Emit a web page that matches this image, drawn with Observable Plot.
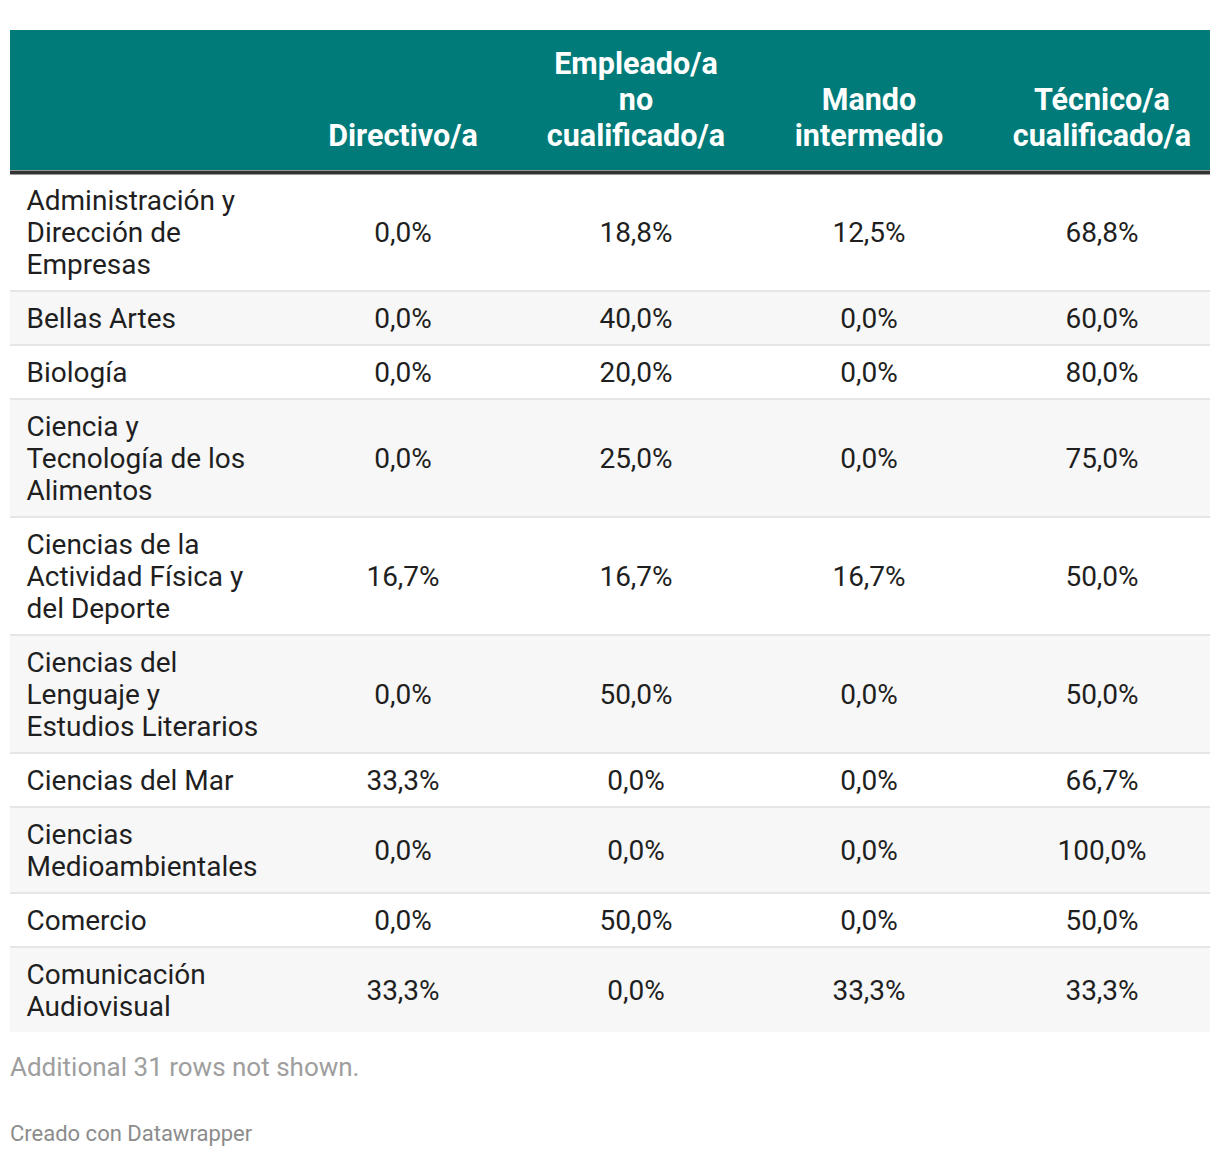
<!DOCTYPE html>
<html>
<head>
<meta charset="utf-8">
<script src="https://cdn.jsdelivr.net/npm/d3@7"></script>
<script src="https://cdn.jsdelivr.net/npm/@observablehq/plot@0.6"></script>
<style>
  html, body { margin: 0; padding: 0; background: #fff; }
  body { width: 1220px; height: 1158px; position: relative; font-family: Roboto, sans-serif; overflow: hidden; }
  #chart svg { display: block; }
  .note { position: absolute; left: 10px; color: #9e9e9e; white-space: nowrap; }
  #more { top: 1051px; font-size: 26px; line-height: 32px; }
  #credit { top: 1121px; font-size: 22px; line-height: 26px; color: #8c8c8c; }
</style>
</head>
<body>
<div id="chart"></div>
<div id="more" class="note">Additional 31 rows not shown.</div>
<div id="credit" class="note">Creado con Datawrapper</div>
<script>
// ---- data ----
const rowLabels = [
  "Administración y\nDirección de\nEmpresas",
  "Bellas Artes",
  "Biología",
  "Ciencia y\nTecnología de los\nAlimentos",
  "Ciencias de la\nActividad Física y\ndel Deporte",
  "Ciencias del\nLenguaje y\nEstudios Literarios",
  "Ciencias del Mar",
  "Ciencias\nMedioambientales",
  "Comercio",
  "Comunicación\nAudiovisual"
];
const columnLabels = [
  "Directivo/a",
  "Empleado/a\nno\ncualificado/a",
  "Mando\nintermedio",
  "Técnico/a\ncualificado/a"
];
const directivo = [0.0, 0.0, 0.0, 0.0, 16.7, 0.0, 33.3, 0.0, 0.0, 33.3];
const empleado  = [18.8, 40.0, 20.0, 25.0, 16.7, 50.0, 0.0, 0.0, 50.0, 0.0];
const mando     = [12.5, 0.0, 0.0, 0.0, 16.7, 0.0, 0.0, 0.0, 0.0, 33.3];
const tecnico   = [68.8, 60.0, 80.0, 75.0, 50.0, 50.0, 66.7, 100.0, 50.0, 33.3];
const series = [directivo, empleado, mando, tecnico];

// ---- layout ----
const W = 1220, H = 1040;
const headerTop = 30, headerBottom = 170, borderY = 172;
const lineH = 32, rowPad = 22, sepW = 2;
const fmt = v => v.toFixed(1).replace(".", ",") + "%";

let yCursor = borderY;
const rows = rowLabels.map((label, i) => {
  const n = label.split("\n").length;
  const h = n * lineH + rowPad;
  const r = {i, label, y0: yCursor, y1: yCursor + h, mid: yCursor + sepW + (h - sepW) / 2};
  yCursor += h;
  return r;
});
const cells = [];
rows.forEach(r => columnLabels.forEach((c, j) => cells.push({col: c, mid: r.mid, text: fmt(series[j][r.i])})));
const headers = columnLabels.map(c => {
  const n = c.split("\n").length;
  return {col: c, y: 134 - (n - 1) * 36 / 2};
});

const chart = Plot.plot({
  width: W,
  height: H,
  marginTop: 0, marginBottom: 0, marginLeft: 10, marginRight: 10,
  style: {fontFamily: "Roboto, sans-serif", background: "#fff"},
  x: {type: "band", domain: columnLabels, range: [286, 1218], padding: 0, axis: null},
  y: {type: "identity", axis: null},
  marks: [
    Plot.rect([0], {y1: headerTop, y2: headerBottom, fill: "#007b79"}),
    Plot.rect(rows.filter(r => r.i % 2 === 1), {y1: "y0", y2: "y1", fill: "#f7f7f7"}),
    Plot.rect(rows.filter(r => r.i > 0), {y1: "y0", y2: d => d.y0 + sepW, fill: "#e6e6e6"}),
    Plot.ruleY([borderY], {stroke: "#333333", strokeWidth: 4}),
    Plot.text(headers, {x: "col", y: "y", text: "col", fill: "#ffffff", fontSize: 30.5, fontWeight: "bold", lineHeight: 36 / 30.5, textAnchor: "middle"}),
    Plot.text(rows, {frameAnchor: "left", dx: 16, y: d => d.mid - 0.5, text: "label", fill: "#1f1f1f", fontSize: 28, lineHeight: lineH / 28, textAnchor: "start"}),
    Plot.text(cells, {x: "col", y: d => d.mid + 1, text: "text", fill: "#1f1f1f", fontSize: 28, textAnchor: "middle"})
  ]
});
document.getElementById("chart").append(chart);
</script>
</body>
</html>
